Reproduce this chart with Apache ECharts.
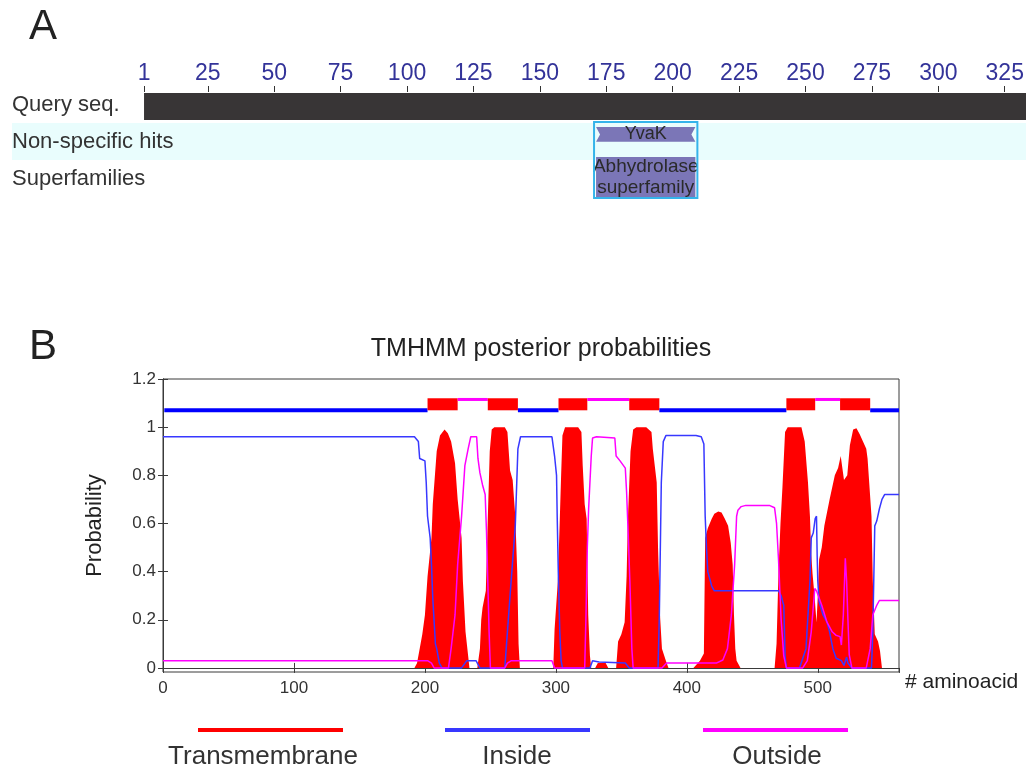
<!DOCTYPE html>
<html>
<head>
<meta charset="utf-8">
<script src="https://cdn.jsdelivr.net/npm/echarts@6/dist/echarts.min.js"></script>
<style>
  html, body { margin: 0; padding: 0; background: #fff; }
  #chart { width: 1029px; height: 776px; }
</style>
</head>
<body>
<div id="chart"></div>
<script>
// ---- panel A: conserved domains on the query sequence
var rowNames = ['Query seq.', 'Non-specific hits', 'Superfamilies']
var seqTicks = [1, 25, 50, 75, 100, 125, 150, 175, 200, 225, 250, 275, 300, 325]
var queryRange = [1, 333]
var hitName = 'YvaK'
var hitRange = [170.4, 209.3]
var superName = 'Abhydrolase\nsuperfamily'
var superRange = [170.4, 209.3]

// ---- panel B: TMHMM posterior probabilities, [aminoacid, probability]
var tmPts = [
  [0, 0], [192, 0], [194, 0.02], [196, 0.08], [198, 0.14], [200, 0.22], [202, 0.38], [205, 0.54], [206, 0.68],
  [209, 0.9], [211.5, 0.965], [215, 0.99], [217.5, 0.975], [220, 0.94], [223, 0.85], [225, 0.7], [228, 0.54],
  [229, 0.36], [231, 0.15], [233, 0.05], [234, 0],
  [240, 0], [242, 0.08], [243, 0.2], [244, 0.25], [246.5, 0.32], [248, 0.62], [249.5, 0.9], [251, 0.99], [253, 1],
  [261, 1], [263, 0.98], [265, 0.82], [267, 0.78], [269, 0.63], [270.5, 0.4], [271.5, 0.1], [272.5, 0],
  [298, 0], [299, 0.16], [301.5, 0.36], [303, 0.62], [304, 0.8], [305, 0.965], [307, 1], [317, 1], [319.5, 0.98],
  [320.5, 0.84], [322, 0.68], [323.5, 0.62], [324.7, 0.22], [326, 0.05], [327, 0],
  [330, 0], [332, 0.02], [338, 0.02], [340, 0],
  [346, 0], [347.5, 0.11], [350, 0.14], [352.5, 0.19], [354, 0.38], [355, 0.62], [357, 0.9], [359, 0.99], [361.5, 1],
  [369, 1], [373, 0.98], [374, 0.91], [377, 0.77], [378, 0.5], [379.5, 0.22], [381, 0.08], [384, 0.03], [386, 0],
  [405, 0], [410, 0.03], [413, 0.06], [414, 0.54], [416, 0.58], [419, 0.62], [421, 0.64], [424, 0.65], [426.5, 0.645],
  [429, 0.62], [431.5, 0.59], [433.5, 0.52], [435, 0.43], [436, 0.22], [437, 0.08], [438, 0.03], [441, 0],
  [467, 0], [468.5, 0.1], [470, 0.4], [471.5, 0.6], [473, 0.75], [475, 0.98], [477, 1], [487.5, 1], [490, 0.94],
  [492.5, 0.77], [494, 0.63], [495, 0.47], [496, 0.39], [497.5, 0.3], [499, 0.19], [500, 0.3], [501, 0.45], [503, 0.5],
  [505, 0.59], [509, 0.7], [513, 0.8], [515.5, 0.83], [517.5, 0.88], [518.5, 0.88], [520, 0.78], [522.5, 0.8],
  [524.5, 0.925], [527, 0.99], [529.5, 0.995], [532, 0.97], [534.5, 0.94], [537, 0.91], [538, 0.87], [541, 0.63],
  [542, 0.36], [543.5, 0.14], [546, 0.11], [547.5, 0.07], [549, 0], [562, 0]
]
var insidePts = [
  [0, 0.96], [192, 0.96], [195, 0.94], [196, 0.87], [200, 0.86], [201, 0.77], [202, 0.63], [204, 0.54], [205, 0.43],
  [206, 0.29], [208, 0.1], [209, 0.08], [211, 0.02], [213, 0], [228, 0], [232, 0.03], [239, 0.03], [242, 0],
  [261, 0], [263, 0.15], [265, 0.3], [269, 0.59], [271, 0.91], [273, 0.96], [297, 0.96], [299, 0.88], [300.5, 0.8],
  [301, 0.63], [302, 0.36], [303, 0.15], [304, 0.03], [305, 0], [326, 0], [328, 0.03], [333, 0.025], [353, 0.02],
  [356, 0], [378, 0], [379, 0.22], [380.5, 0.77], [382, 0.94], [384, 0.965], [407, 0.965], [411, 0.96], [413, 0.93],
  [414, 0.63], [415, 0.5], [416, 0.4], [419, 0.34], [421, 0.32], [470, 0.32], [472, 0.3], [474, 0.26], [475, 0.05],
  [476, 0], [486, 0], [491, 0.08], [494, 0.36], [495, 0.54], [496.5, 0.56], [498, 0.62], [499, 0.63], [499.5, 0.47],
  [500, 0.36], [501, 0.275], [504, 0.22], [507, 0.19], [509, 0.15], [511.5, 0.08], [514, 0.04], [518, 0.03],
  [520, 0.01], [522, 0.045], [523, 0.02], [526, 0], [541, 0], [542, 0.15], [543.5, 0.59], [545, 0.61], [547, 0.66],
  [549, 0.7], [551, 0.72], [562, 0.72]
]
var outsidePts = [
  [0, 0.03], [202, 0.03], [205, 0.02], [207, 0], [218, 0], [220, 0.08], [223, 0.22], [225, 0.43], [228, 0.63],
  [230.5, 0.84], [233, 0.91], [235, 0.96], [239.5, 0.96], [240.5, 0.87], [242, 0.81], [244, 0.76], [246, 0.72],
  [247, 0.57], [248, 0.36], [249, 0.15], [250, 0], [261, 0], [263, 0.02], [266, 0.03], [297, 0.03], [299, 0],
  [322, 0], [323, 0.22], [324, 0.5], [325, 0.66], [327, 0.88], [328, 0.955], [331, 0.96], [345, 0.955], [346, 0.88],
  [349, 0.86], [353, 0.83], [354, 0.73], [355, 0.59], [356.5, 0.36], [358, 0.08], [359, 0], [381, 0], [384.5, 0.02],
  [422.5, 0.02], [427.5, 0.033], [431, 0.08], [434, 0.22], [436.5, 0.43], [438, 0.63], [439, 0.655], [441.5, 0.67],
  [445, 0.675], [463, 0.675], [467, 0.665], [468.5, 0.6], [470, 0.45], [472, 0.2], [474, 0.05], [476, 0],
  [488.5, 0], [492, 0.03], [495, 0.15], [497.7, 0.33], [499, 0.32], [503, 0.26], [507, 0.19], [511, 0.15],
  [514, 0.135], [517, 0.13], [518, 0.095], [519.5, 0.22], [521, 0.455], [522, 0.36], [523, 0.2], [524, 0.055],
  [526, 0], [537, 0], [540, 0.08], [542, 0.22], [545, 0.26], [547, 0.28], [562, 0.28]
]
// predicted topology: [from, to, kind]  (in = inside, tm = transmembrane helix, out = outside)
var topology = [
  [1, 202, 'in'], [202, 225, 'tm'], [225, 248, 'out'], [248, 271, 'tm'], [271, 302, 'in'], [302, 324, 'tm'],
  [324, 356, 'out'], [356, 379, 'tm'], [379, 476, 'in'], [476, 498, 'tm'], [498, 517, 'out'], [517, 540, 'tm'],
  [540, 562, 'in']
]
var probTicks = [0, 0.2, 0.4, 0.6, 0.8, 1, 1.2]
var legendNames = ['Transmembrane', 'Inside', 'Outside']

var FONT = 'Liberation Sans, Arial, sans-serif'
var RED = '#ff0000'
var BLUE = '#3838ff'
var MAGENTA = '#ff00ff'

var panelAItems = [
  { kind: 'query', from: queryRange[0], to: queryRange[1], row: 0 },
  { kind: 'hit', from: hitRange[0], to: hitRange[1], row: 1, text: hitName },
  { kind: 'super', from: superRange[0], to: superRange[1], row: 2, text: superName },
  { kind: 'frame', from: hitRange[0], to: superRange[1], row: 1 }
]

function renderPanelA(params, api) {
  var it = panelAItems[params.dataIndex]
  var bw = api.size([0, 1])[1]
  var p0 = api.coord([it.from, it.row])
  var p1 = api.coord([it.to, it.row])
  var top = p0[1] - bw / 2
  var x0 = p0[0], x1 = p1[0]
  if (it.kind === 'query') {
    return { type: 'rect', shape: { x: x0, y: top + bw * 0.19, width: x1 - x0, height: bw * 0.73 },
      style: { fill: '#383536' } }
  }
  if (it.kind === 'frame') {
    return { type: 'rect', shape: { x: x0, y: top - 1, width: x1 - x0, height: bw * 2 + 2 },
      style: { fill: 'none', stroke: '#35b4ea', lineWidth: 2 } }
  }
  if (it.kind === 'hit') {
    var a = x0 + 2, b = x1 - 2, ya = top + bw * 0.11, yb = top + bw * 0.51, ym = (ya + yb) / 2
    return { type: 'group', children: [
      { type: 'polygon', shape: { points: [[a, ya], [b, ya], [b - 4, ym], [b, yb], [a, yb], [a + 4, ym]] },
        style: { fill: '#7b76b7' } },
      { type: 'text', style: { text: it.text, x: (a + b) / 2, y: ym, align: 'center', verticalAlign: 'middle',
        fontSize: 18, fontFamily: FONT, fill: '#2a2a2a' } }
    ] }
  }
  // superfamily
  var sa = x0 + 2, sb = x1 - 2, sy0 = top - bw * 0.08, sy1 = top + bw + 1
  return { type: 'group', children: [
    { type: 'rect', shape: { x: sa, y: sy0, width: sb - sa, height: sy1 - sy0 }, style: { fill: '#7b76b7' } },
    { type: 'text', style: { text: it.text, x: (sa + sb) / 2, y: (sy0 + sy1) / 2, align: 'center',
      verticalAlign: 'middle', fontSize: 19, lineHeight: 21, fontFamily: FONT, fill: '#2a2a2a' } }
  ] }
}

function renderTopology(params, api) {
  var seg = topology[params.dataIndex]
  var kind = seg[2]
  if (kind === 'tm') {
    var a = api.coord([seg[0], 1.12])
    var b = api.coord([seg[1], 1.07])
    return { type: 'rect', shape: { x: a[0], y: a[1], width: b[0] - a[0], height: b[1] - a[1] },
      style: { fill: RED } }
  }
  var level = kind === 'in' ? 1.07 : 1.115
  var thick = kind === 'in' ? 4 : 3
  var p = api.coord([seg[0], level])
  var q = api.coord([seg[1], level])
  return { type: 'rect', shape: { x: p[0], y: p[1] - thick / 2, width: q[0] - p[0], height: thick },
    style: { fill: kind === 'in' ? '#0000ff' : MAGENTA } }
}

function makeLegend(name, left) {
  return {
    data: [name], left: left, top: 728, padding: 0, icon: 'rect', itemWidth: 145, itemHeight: 4,
    selectedMode: false, formatter: function() { return '' }, textStyle: { fontSize: 1 }
  }
}

function legendText(name, x) {
  return { type: 'text', style: { text: name, x: x, y: 757, align: 'center', verticalAlign: 'middle',
    fontSize: 26, fontFamily: FONT, fill: '#333' } }
}

var chart = echarts.init(document.getElementById('chart'), null, { renderer: 'canvas' })
chart.setOption({
  animation: false,
  backgroundColor: '#ffffff',
  textStyle: { fontFamily: FONT },
  title: [
    { text: 'A', left: 24, top: 1, textStyle: { fontSize: 42, fontWeight: 'normal', color: '#222', fontFamily: FONT } },
    { text: 'B', left: 24, top: 321, textStyle: { fontSize: 42, fontWeight: 'normal', color: '#222', fontFamily: FONT } },
    { text: 'TMHMM posterior probabilities', left: 536, top: 332, textAlign: 'center',
      textStyle: { fontSize: 25, fontWeight: 'normal', color: '#222', fontFamily: FONT } }
  ],
  legend: [
    makeLegend(legendNames[0], 198),
    makeLegend(legendNames[1], 445),
    makeLegend(legendNames[2], 703)
  ],
  graphic: [
    legendText(legendNames[0], 263),
    legendText(legendNames[1], 517),
    legendText(legendNames[2], 777)
  ],
  grid: [
    { left: 12, right: 3, top: 86, height: 111 },
    { left: 163, right: 130, top: 379, bottom: 104, show: true, borderColor: '#3a3a3a', borderWidth: 1, backgroundColor: 'transparent' }
  ],
  xAxis: [
    {
      gridIndex: 0, type: 'value', position: 'top', min: -48.7, max: 333,
      axisLine: { show: false },
      axisTick: { show: true, inside: true, length: 6, customValues: seqTicks, lineStyle: { color: '#333', width: 1 } },
      axisLabel: { customValues: seqTicks, color: '#333399', fontSize: 23, margin: 1, fontFamily: FONT },
      splitLine: { show: false }
    },
    {
      gridIndex: 1, type: 'value', position: 'bottom', min: 0, max: 562, interval: 100,
      axisLine: { show: true, lineStyle: { color: '#3a3a3a' } },
      axisTick: { inside: true, length: 5, lineStyle: { color: '#3a3a3a' } },
      axisLabel: { color: '#333', fontSize: 17, margin: 8, fontFamily: FONT,
        showMaxLabel: false },
      splitLine: { show: false },
      name: '# aminoacid', nameLocation: 'end', nameGap: 6,
      nameTextStyle: { fontSize: 21, color: '#222', verticalAlign: 'top', padding: [4, 0, 0, 0], fontFamily: FONT }
    },
    {
      gridIndex: 1, type: 'value', position: 'top', min: 0, max: 562, interval: 100,
      axisLine: { show: true, lineStyle: { color: '#3a3a3a' } },
      axisTick: { inside: true, length: 5, lineStyle: { color: '#3a3a3a' } },
      axisLabel: { show: false }, splitLine: { show: false }
    }
  ],
  yAxis: [
    {
      gridIndex: 0, type: 'category', data: rowNames, inverse: true,
      axisLine: { show: false }, axisTick: { show: false },
      axisLabel: { inside: true, margin: 0, color: '#333', fontSize: 22, fontFamily: FONT },
      splitLine: { show: false },
      splitArea: { show: true, areaStyle: { color: ['rgba(255,255,255,0)', '#e9fdfd', 'rgba(255,255,255,0)'] } }
    },
    {
      gridIndex: 1, type: 'value', min: -0.017, max: 1.2,
      axisLine: { show: true, lineStyle: { color: '#3a3a3a' } },
      axisTick: { inside: true, length: 5, customValues: probTicks, lineStyle: { color: '#3a3a3a' } },
      axisLabel: { customValues: probTicks, color: '#333', fontSize: 17, margin: 7, fontFamily: FONT,
        formatter: function(v) { return String(Math.round(v * 10) / 10) } },
      splitLine: { show: false },
      name: 'Probability', nameLocation: 'middle', nameGap: 57, nameRotate: 90,
      nameTextStyle: { fontSize: 22, color: '#222', fontFamily: FONT }
    },
    {
      gridIndex: 1, type: 'value', position: 'right', min: -0.017, max: 1.2,
      axisLine: { show: true, lineStyle: { color: '#3a3a3a' } },
      axisTick: { inside: true, length: 5, customValues: probTicks, lineStyle: { color: '#3a3a3a' } },
      axisLabel: { show: false }, splitLine: { show: false }
    }
  ],
  series: [
    {
      name: 'domains', type: 'custom', xAxisIndex: 0, yAxisIndex: 0,
      renderItem: renderPanelA,
      data: panelAItems.map(function(it) { return [it.from, it.row, it.to] }),
      encode: { x: [0, 2], y: 1 }, silent: true
    },
    {
      name: 'Transmembrane', type: 'line', xAxisIndex: 1, yAxisIndex: 1, data: tmPts,
      showSymbol: false, symbol: 'none', color: RED,
      lineStyle: { color: RED, width: 0 }, areaStyle: { color: RED, opacity: 1, origin: 0 }, z: 2
    },
    {
      name: 'Inside', type: 'line', xAxisIndex: 1, yAxisIndex: 1, data: insidePts,
      showSymbol: false, symbol: 'none', color: BLUE, lineStyle: { color: BLUE, width: 1.5 }, z: 3
    },
    {
      name: 'Outside', type: 'line', xAxisIndex: 1, yAxisIndex: 1, data: outsidePts,
      showSymbol: false, symbol: 'none', color: MAGENTA, lineStyle: { color: MAGENTA, width: 1.5 }, z: 4
    },
    {
      name: 'topology', type: 'custom', xAxisIndex: 1, yAxisIndex: 1,
      renderItem: renderTopology,
      data: topology.map(function(s) { return [s[0], s[1]] }),
      encode: { x: [0, 1] }, z: 5, silent: true
    }
  ]
})
</script>
</body>
</html>
